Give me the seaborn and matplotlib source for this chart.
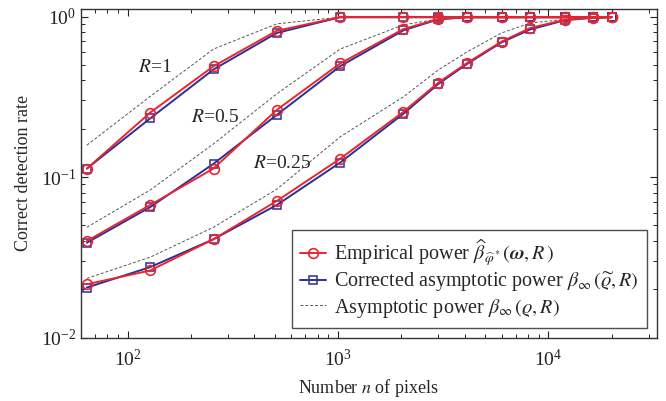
import matplotlib
matplotlib.use("Agg")
import matplotlib.pyplot as plt
import numpy as np
import seaborn as sns
from matplotlib.lines import Line2D
from matplotlib.ticker import LogLocator, NullFormatter

# number of pixels
n_pixels = [64, 128, 256, 512, 1024, 2048, 3000, 4096, 6000, 8192, 12000, 16384, 20000]

# empirical power (red circles)
emp_r1 = [0.113, 0.252, 0.49, 0.815, 0.99, 0.99, 0.99, 0.99, 0.99, 0.99, 0.99, 0.99, 0.99]
emp_r05 = [0.040, 0.067, 0.113, 0.262, 0.51, 0.835, 0.965, 0.99, 0.99, 0.99, 0.99, 0.99, 0.99]
emp_r025 = [0.0215, 0.0262, 0.041, 0.071, 0.130, 0.255, 0.387, 0.512, 0.698, 0.847, 0.955, 0.985, 0.99]

# corrected asymptotic power (blue squares)
cor_r1 = [0.113, 0.232, 0.468, 0.79, 0.99, 0.99, 0.99, 0.99, 0.99, 0.99, 0.99, 0.99, 0.99]
cor_r05 = [0.039, 0.065, 0.121, 0.244, 0.49, 0.82, 0.96, 0.99, 0.99, 0.99, 0.99, 0.99, 0.99]
cor_r025 = [0.0205, 0.0275, 0.041, 0.067, 0.123, 0.248, 0.38, 0.505, 0.69, 0.83, 0.948, 0.983, 0.99]

# asymptotic power (dashed)
asy_r1 = [0.158, 0.318, 0.627, 0.90, 0.99, 0.995, 0.995, 0.995, 0.995, 0.995, 0.995, 0.995, 0.995]
asy_r05 = [0.0487, 0.083, 0.161, 0.33, 0.627, 0.887, 0.965, 0.985, 0.99, 0.99, 0.99, 0.99, 0.99]
asy_r025 = [0.0234, 0.0317, 0.0487, 0.084, 0.178, 0.316, 0.465, 0.60, 0.79, 0.91, 0.96, 0.98, 0.99]

r_labels = ["$R$=1", "$R$=0.5", "$R$=0.25"]
r_label_pos = [(135, 0.48), (262, 0.234), (545, 0.122)]

sns.set_theme(style="ticks")
plt.rcParams["font.family"] = ["Liberation Serif", "DejaVu Serif"]
plt.rcParams["mathtext.fontset"] = "stix"
plt.rcParams["font.size"] = 12

red = "#e8262f"
blue = "#2c2f96"
grey = "#555555"

fig = plt.figure(figsize=(6.66, 4.01), dpi=100)
ax = fig.add_axes([0.1216, 0.158, 0.8644, 0.819])

for asy in [asy_r1, asy_r05, asy_r025]:
    sns.lineplot(x=n_pixels, y=asy, ax=ax, color=grey, linewidth=0.7,
                 linestyle=(0, (3, 2)), sort=False)
for cor in [cor_r1, cor_r05, cor_r025]:
    sns.lineplot(x=n_pixels, y=cor, ax=ax, color=blue, linewidth=1.4, marker="s",
                 markersize=6, markerfacecolor="none", markeredgecolor=blue,
                 markeredgewidth=1.1, sort=False)
for emp in [emp_r1, emp_r05, emp_r025]:
    sns.lineplot(x=n_pixels, y=emp, ax=ax, color=red, linewidth=1.4, marker="o",
                 markersize=7, markerfacecolor="none", markeredgecolor=red,
                 markeredgewidth=1.2, sort=False)

for lab, (xx, yy) in zip(r_labels, r_label_pos):
    ax.text(xx, yy, lab, fontsize=14, ha="center", va="center")

ax.set_xscale("log")
ax.set_yscale("log")
ax.set_xlim(60, 32768)
ax.set_ylim(0.01, 1.11)
ax.xaxis.set_major_locator(LogLocator(base=10))
ax.yaxis.set_major_locator(LogLocator(base=10))
ax.xaxis.set_minor_locator(LogLocator(base=10, subs=np.arange(2, 10)))
ax.yaxis.set_minor_locator(LogLocator(base=10, subs=np.arange(2, 10)))
ax.xaxis.set_minor_formatter(NullFormatter())
ax.yaxis.set_minor_formatter(NullFormatter())
ax.tick_params(which="both", direction="in", top=True, right=True, labelsize=14, colors="#222222")
ax.tick_params(which="major", length=5, width=0.8)
ax.tick_params(which="minor", length=3, width=0.7)
ax.tick_params(axis="x", pad=8)
for sp in ax.spines.values():
    sp.set_linewidth(1.0)
    sp.set_color("#333333")

ax.set_xlabel("Number $n$ of pixels", fontsize=13, labelpad=5)
ax.set_ylabel("Correct detection rate", fontsize=13, labelpad=6)

handles = [
    Line2D([], [], color=red, lw=1.4, marker="o", markersize=7, markerfacecolor="none",
           markeredgewidth=1.2),
    Line2D([], [], color=blue, lw=1.4, marker="s", markersize=6, markerfacecolor="none",
           markeredgewidth=1.1),
    Line2D([], [], color=grey, lw=0.7, linestyle=(0, (3, 2))),
]
labels = [
    r"Empirical power $\widehat{\beta}_{\widehat{\varphi}^*}(\boldsymbol{\omega}, R\,)$",
    r"Corrected asymptotic power $\beta_\infty\,(\widetilde{\varrho}, R)$",
    r"Asymptotic power $\beta_\infty\,(\varrho, R)$",
]
leg = ax.legend(handles, labels, loc="lower right", fontsize=14.5, frameon=True,
                fancybox=False, edgecolor="#222222", handlelength=1.3,
                handletextpad=0.4, borderpad=0.4, labelspacing=0.12,
                bbox_to_anchor=(1.0, 0.0))
leg.get_frame().set_linewidth(1.0)

fig.savefig("out.png", dpi=100)
